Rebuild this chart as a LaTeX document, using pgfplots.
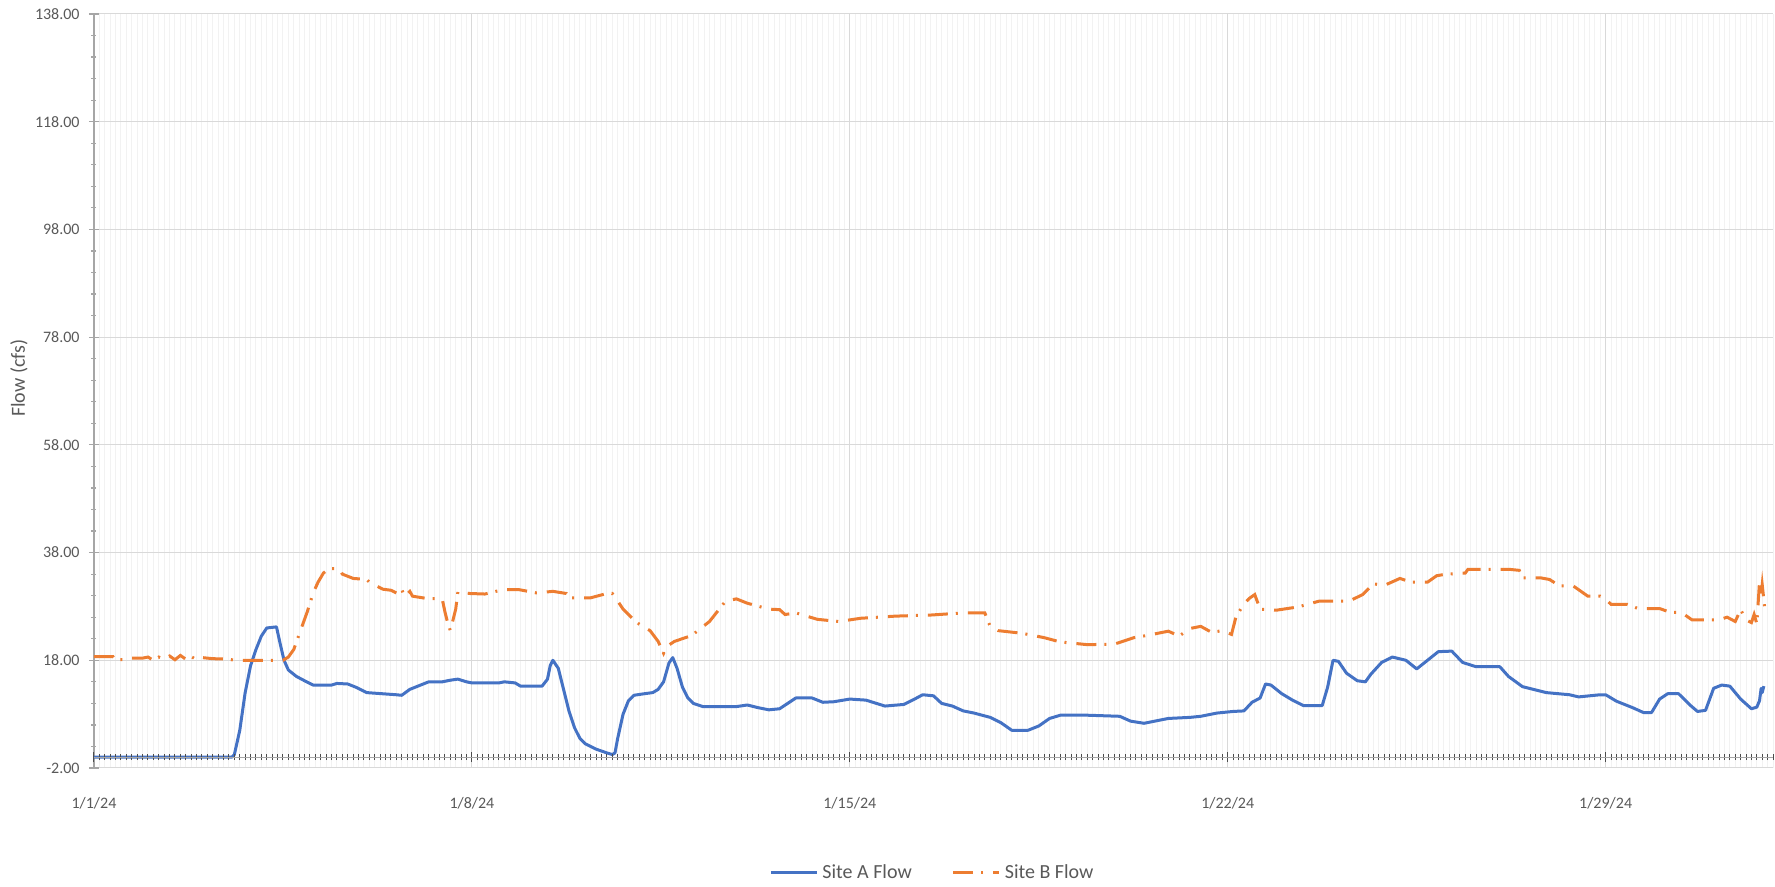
\documentclass[border=0pt]{standalone}
\usepackage{pgfplots}
\pgfplotsset{compat=1.18}
\usepackage{fontspec}
\setmainfont{Carlito}
\definecolor{siteA}{HTML}{4472C4}
\definecolor{siteB}{HTML}{ED7D31}
\definecolor{txt}{HTML}{595959}
\definecolor{gmaj}{HTML}{D9D9D9}
\definecolor{gmin}{HTML}{F2F2F2}
\definecolor{axl}{HTML}{A6A6A6}

\pgfplotsset{
    flowaxis/.style={
        width=839.5pt, height=377pt, scale only axis,
        xmin=0, xmax=31.1, ymin=-2, ymax=138,
        xtick={0,7,14,21,28},
        minor xtick={0,0.1,...,31.1},
    },
}

\begin{document}
\begin{tikzpicture}
\useasboundingbox (-47pt,-59.5pt) rectangle (840.5pt,384pt);
\begin{axis}[
    flowaxis,
    axis x line*=bottom, axis y line*=left,
    x axis line style={draw=none},
    y axis line style={axl, line width=0.6pt},
    xticklabel={\pgfmathparse{int(\tick+1)}1/\pgfmathresult/24},
    xtick style={draw=none},
    ytick={-2,18,...,138},
    minor y tick num=4,
    ytick style={axl, line width=0.6pt},
    tick align=center,
    major tick length=5pt, minor tick length=2.5pt,
    /pgf/number format/assume math mode=true,
    yticklabel={\pgfmathprintnumber[fixed,fixed zerofill,precision=2]{\tick}},
    yticklabel style={anchor=east, inner sep=0pt, xshift=-4.5pt},
    xticklabel style={anchor=center, yshift=-15pt},
    tick label style={font=\fontsize{8}{9}\selectfont, text=txt},
    xmajorgrids, ymajorgrids, xminorgrids,
    major grid style={gmaj, line width=0.5pt},
    minor grid style={gmin, line width=0.5pt},
    ylabel={Flow (cfs)},
    ylabel style={at={(axis description cs:-0.0447,0.517)}, anchor=center, rotate=0, font=\fontsize{10}{12}\selectfont, text=txt},
    legend columns=2,
    legend style={at={(axis description cs:0.5,-0.139)}, anchor=center, draw=none, fill=none,
        font=\fontsize{10}{12}\selectfont, text=txt,
        /tikz/every even column/.append style={column sep=18pt}},
    legend image code/.code={\draw[#1] (0pt,0pt) -- (23pt,0pt);},
]
\addplot[siteA, line width=1.5pt, line join=round] coordinates {
(0,0) (2.55,0) (2.6,0.5) (2.7,5) (2.8,12) (2.9,17) (3.0,20) (3.1,22.5) (3.2,24) (3.38,24.2)
(3.45,21) (3.52,18) (3.6,16.2) (3.75,15) (3.9,14.2) (4.06,13.4) (4.4,13.4) (4.5,13.7) (4.7,13.6)
(4.85,13) (5.05,12) (5.6,11.6) (5.7,11.5) (5.85,12.6) (6.0,13.2) (6.2,14) (6.45,14) (6.6,14.3)
(6.74,14.5) (6.9,14) (7.0,13.8) (7.5,13.8) (7.6,14) (7.8,13.8) (7.9,13.2) (8.3,13.2) (8.4,14.5)
(8.45,17) (8.5,18) (8.6,16.5) (8.7,12.5) (8.8,8.5) (8.9,5.5) (9.0,3.5) (9.1,2.5) (9.3,1.5)
(9.5,0.8) (9.6,0.5) (9.65,0.8) (9.7,3.5) (9.8,8) (9.9,10.5) (10.0,11.5) (10.2,11.8) (10.35,12)
(10.45,12.6) (10.55,14) (10.65,17.5) (10.72,18.5) (10.8,16.5) (10.9,13) (11.0,11) (11.1,10)
(11.28,9.4) (11.9,9.4) (12.1,9.7) (12.3,9.2) (12.5,8.8) (12.7,9.0) (12.85,10) (13.0,11) (13.3,11)
(13.5,10.2) (13.7,10.3) (14,10.8) (14.3,10.6) (14.65,9.5) (15.0,9.8) (15.2,10.8) (15.35,11.6)
(15.55,11.4) (15.7,10) (15.9,9.5) (16.1,8.6) (16.3,8.2) (16.6,7.4) (16.8,6.4) (17.0,5.0) (17.3,5.0)
(17.5,5.8) (17.7,7.2) (17.9,7.8) (18.4,7.8) (19.0,7.6) (19.2,6.7) (19.45,6.3) (19.7,6.8) (19.9,7.2)
(20.3,7.4) (20.5,7.6) (20.8,8.2) (21.1,8.5) (21.3,8.6) (21.45,10.2) (21.6,11) (21.7,13.6)
(21.8,13.4) (22.0,11.8) (22.2,10.6) (22.4,9.6) (22.75,9.6) (22.85,13) (22.95,18.0) (23.05,17.8)
(23.2,15.6) (23.4,14.2) (23.55,14) (23.65,15.4) (23.85,17.6) (24.05,18.6) (24.3,18) (24.5,16.4)
(24.7,18) (24.9,19.6) (25.15,19.7) (25.35,17.6) (25.6,16.8) (26.04,16.8) (26.2,15) (26.46,13.1)
(26.9,12) (27.33,11.6) (27.5,11.2) (27.9,11.6) (28.0,11.6) (28.2,10.4) (28.5,9.2) (28.7,8.3)
(28.85,8.3) (29.0,10.8) (29.15,11.8) (29.35,11.8) (29.55,9.8) (29.7,8.5) (29.85,8.7) (30.0,12.8)
(30.15,13.4) (30.3,13.2) (30.5,10.8) (30.7,9.0) (30.8,9.3) (30.85,10.5) (30.88,12.8) (30.9,12)
(30.93,13.2)
};
\addlegendentry{Site A Flow}
\addplot[siteB, line width=1.5pt, dash pattern=on 10pt off 4pt on 1pt off 5pt] coordinates {
(0,18.7) (0.35,18.7) (0.4,18.1) (0.65,18.1) (0.7,18.4) (0.9,18.4) (1.0,18.6) (1.1,18.0) (1.2,18.6)
(1.3,18.2) (1.4,18.8) (1.5,18.1) (1.6,18.9) (1.7,18.2) (1.8,18.7) (1.9,18.1) (2.0,18.5) (2.2,18.3)
(2.5,18.2) (2.6,18.0) (3.5,18.0) (3.6,18.6) (3.7,20) (3.81,23.1) (3.95,27) (4.06,30.5) (4.15,32.5)
(4.25,34.2) (4.35,35) (4.55,35) (4.6,34) (4.8,33.2) (5.05,33) (5.1,32.5) (5.35,31.2) (5.5,31.0)
(5.6,30.5) (5.7,31.2) (5.75,29.8) (5.85,30.8) (5.9,29.9) (6.15,29.5) (6.45,29.4) (6.5,27) (6.55,25)
(6.6,23.5) (6.65,25.5) (6.7,27.5) (6.74,30.7) (6.96,30.4) (7.24,30.3) (7.57,31.1) (7.88,31.1)
(8.2,30.5) (8.5,30.8) (8.75,30.4) (8.8,29.6) (9.2,29.6) (9.5,30.4) (9.6,30.4) (9.7,29) (9.8,27.5)
(10.0,25.5) (10.1,24.7) (10.3,23.5) (10.45,21.5) (10.55,19.3) (10.6,20.5) (10.75,21.5) (11.07,22.6)
(11.4,25.2) (11.7,29.0) (11.9,29.4) (12.1,28.6) (12.5,27.5) (12.7,27.4) (12.8,26.5) (13.0,26.8)
(13.4,25.6) (13.8,25.2) (14.2,25.8) (14.85,26.2) (15.5,26.4) (16.1,26.8) (16.5,26.8) (16.6,24.3)
(16.75,23.5) (17.2,23) (17.6,22.2) (17.9,21.4) (18.4,20.9) (18.9,21.0) (19.26,22.2) (19.5,22.6)
(19.7,23) (19.9,23.4) (20.1,22.5) (20.3,23.9) (20.5,24.3) (20.7,23.2) (20.9,23.5) (21.07,22.8)
(21.15,26) (21.3,28.5) (21.4,29.5) (21.5,30.2) (21.6,27.5) (21.9,27.3) (22.3,27.9) (22.7,29)
(23.25,29) (23.5,30.2) (23.7,32.2) (23.9,31.9) (24.19,33.2) (24.4,32.5) (24.7,32.5) (24.87,33.7)
(25.05,34) (25.4,34.2) (25.45,34.9) (26.2,34.9) (26.4,34.7) (26.46,33.3) (26.8,33.3) (26.96,33)
(27.15,31.8) (27.4,31.8) (27.5,31.1) (27.67,29.9) (27.9,29.9) (28.0,29.3) (28.1,28.4) (28.4,28.4)
(28.6,27.6) (29.0,27.6) (29.2,26.9) (29.4,26.9) (29.6,25.5) (30.1,25.5) (30.25,26) (30.4,25.2)
(30.5,27.4) (30.6,25.5) (30.7,25) (30.75,26.5) (30.8,24.8) (30.85,32.6) (30.88,30) (30.9,32)
(30.95,27.4)
};
\addlegendentry{Site B Flow}
\end{axis}
\begin{axis}[
    flowaxis,
    axis x line*=middle, axis y line=none,
    x axis line style={axl, line width=0.6pt, -},
    xticklabels={},
    ytick=\empty,
    tick align=center,
    major tick length=5pt, minor tick length=3pt,
    xtick style={black!70, line width=0.5pt},
]
\end{axis}
\end{tikzpicture}
\end{document}
